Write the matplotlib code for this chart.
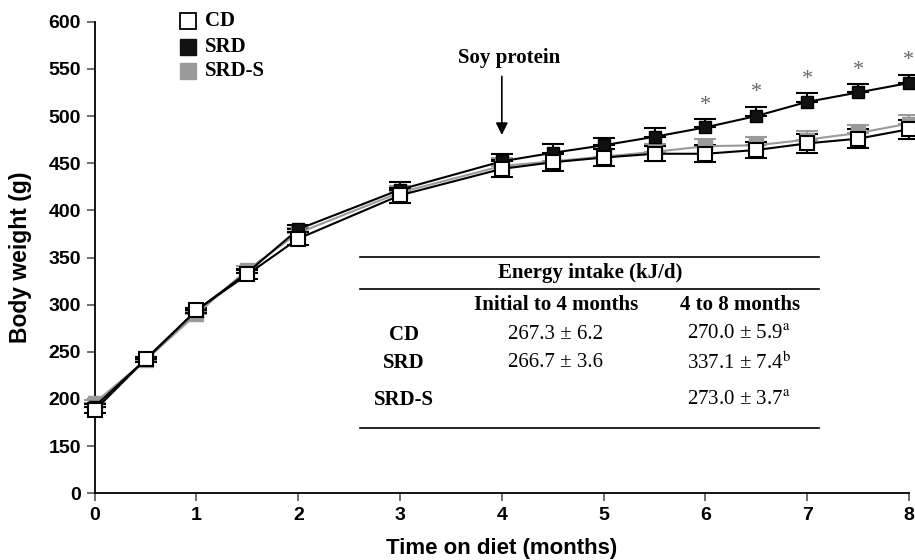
import matplotlib
matplotlib.use("Agg")
import matplotlib.pyplot as plt
from matplotlib.lines import Line2D

plt.rcParams['font.family'] = ['Liberation Sans', 'DejaVu Sans']
plt.rcParams['mathtext.fontset'] = 'stix'

# time on diet (months)
months = [0, 0.5, 1, 1.5, 2, 3, 4, 4.5, 5, 5.5, 6, 6.5, 7, 7.5, 8]

# body weight (g)
cd = [188, 242, 294, 332, 370, 416, 444, 451, 456, 460, 460, 464, 471, 476, 486]
srd = [192, 242, 294, 334, 380, 422, 452, 461, 469, 478, 488, 500, 515, 525, 535]
srd_s = [196, 241, 290, 337, 376, 419, 447, 452, 457, 462, 468, 469, 475, 482, 492]

cd_err = [3, 3, 3, 5, 7, 8, 9, 9, 9, 8, 9, 9, 10, 10, 10]
srd_err = [3, 3, 3, 4, 5, 8, 8, 9, 8, 9, 9, 10, 9, 9, 9]
srd_s_err = [3, 3, 3, 4, 5, 7, 8, 8, 8, 8, 8, 9, 9, 9, 9]

# months where SRD differs significantly
signif = [6, 6.5, 7, 7.5, 8]

# energy intake table
groups = ['CD', 'SRD', 'SRD-S']
intake_early = ['267.3 ± 6.2', '266.7 ± 3.6', '']
intake_late = ['270.0 ± 5.9', '337.1 ± 7.4', '273.0 ± 3.7']
intake_letters = ['a', 'b', 'a']

# y axis is broken: the bottom tick stands for 0
ytick_vals = [100, 150, 200, 250, 300, 350, 400, 450, 500, 550, 600]
ytick_labels = ['0', '150', '200', '250', '300', '350', '400', '450', '500', '550', '600']

GRAY = '#9a9a9a'
SERIF = ['Liberation Serif', 'DejaVu Serif']

fig = plt.figure(figsize=(9.15, 5.6), dpi=100)
ax = fig.add_axes([0.1035, 0.1191, 0.8899, 0.8421])

# error bars (CD both ways, the others only upward)
ax.errorbar(months, srd_s, yerr=[[0] * len(srd_s), srd_s_err], fmt='none',
            ecolor=GRAY, elinewidth=1.5, capsize=8, capthick=1.5, clip_on=False, zorder=2)
ax.errorbar(months, srd, yerr=[[0] * len(srd), srd_err], fmt='none',
            ecolor='black', elinewidth=1.5, capsize=8, capthick=1.5, clip_on=False, zorder=3)
ax.errorbar(months, cd, yerr=cd_err, fmt='none',
            ecolor='black', elinewidth=1.5, capsize=8, capthick=1.5, clip_on=False, zorder=4)

ax.plot(months, srd_s, color=GRAY, lw=1.5, marker='s', ms=10, mfc=GRAY, mec=GRAY,
        clip_on=False, zorder=5)
ax.plot(months, srd, color='black', lw=1.5, marker='s', ms=8, mfc='#111111', mec='black',
        clip_on=False, zorder=6)
ax.plot(months, cd, color='black', lw=1.5, marker='s', ms=10, mfc='white', mec='black',
        mew=1.5, clip_on=False, zorder=7)

for m in signif:
    i = months.index(m)
    ax.annotate('*', xy=(m, srd[i] + srd_err[i]), xytext=(0, 3), textcoords='offset points',
                ha='center', va='bottom', color='#666666', fontsize=16, family=SERIF)

# soy protein arrow
ax.annotate('', xy=(4.0, 477), xytext=(4.0, 545),
            arrowprops=dict(arrowstyle='-|>', color='black', lw=1.2, mutation_scale=18))
ax.text(4.07, 562, 'Soy protein', ha='center', va='center', fontsize=15,
        fontweight='bold', family=SERIF)

# legend drawn by hand
leg_y = [1.0015, 0.947, 0.896]
leg_style = [dict(mfc='white', mec='black', mew=1.3),
             dict(mfc='#111111', mec='#111111'),
             dict(mfc=GRAY, mec=GRAY)]
for name, y, st in zip(groups, leg_y, leg_style):
    ax.plot([0.1142], [y], marker='s', ms=11, ls='none', transform=ax.transAxes,
            clip_on=False, **st)
    ax.text(0.1355, y, name, transform=ax.transAxes, ha='left', va='center',
            fontsize=15, fontweight='bold', family=SERIF)

# energy intake table
tx0, tx1 = 0.3258, 0.8895
for yl in [0.5003, 0.4325, 0.1378]:
    ax.add_line(Line2D([tx0, tx1], [yl, yl], transform=ax.transAxes, color='black', lw=1.2))
ax.text(0.6083, 0.467, 'Energy intake (kJ/d)', transform=ax.transAxes, ha='center',
        va='center', fontsize=15, fontweight='bold', family=SERIF)
ax.text(0.5665, 0.3989, 'Initial to 4 months', transform=ax.transAxes, ha='center',
        va='center', fontsize=15, fontweight='bold', family=SERIF)
ax.text(0.7925, 0.3989, '4 to 8 months', transform=ax.transAxes, ha='center',
        va='center', fontsize=15, fontweight='bold', family=SERIF)
row_y = [0.3357, 0.2769, 0.1978]
for name, early, late, letter, y in zip(groups, intake_early, intake_late, intake_letters, row_y):
    ax.text(0.3798, y, name, transform=ax.transAxes, ha='center', va='center',
            fontsize=15, fontweight='bold', family=SERIF)
    ax.text(0.5665, y, early, transform=ax.transAxes, ha='center', va='center',
            fontsize=15, family=SERIF)
    ax.text(0.7908, y, late + r'$^{\mathrm{%s}}$' % letter, transform=ax.transAxes,
            ha='center', va='center', fontsize=15, family=SERIF)

ax.set_xlim(0, 8)
ax.set_ylim(100, 600)
ax.set_xticks(range(9))
ax.set_yticks(ytick_vals)
ax.set_yticklabels(ytick_labels)
ax.tick_params(axis='both', direction='out', length=6, width=1.2, color='#555555',
               labelsize=14, pad=4)
for lab in ax.get_xticklabels() + ax.get_yticklabels():
    lab.set_fontweight('bold')

ax.spines['top'].set_visible(False)
ax.spines['right'].set_visible(False)
ax.spines['left'].set_linewidth(1.3)
ax.spines['bottom'].set_linewidth(1.3)

ax.set_xlabel('Time on diet (months)', fontsize=16, fontweight='bold', labelpad=10)
ax.set_ylabel('Body weight (g)', fontsize=16.5, fontweight='bold', labelpad=12)

fig.savefig('out.png', dpi=100)
